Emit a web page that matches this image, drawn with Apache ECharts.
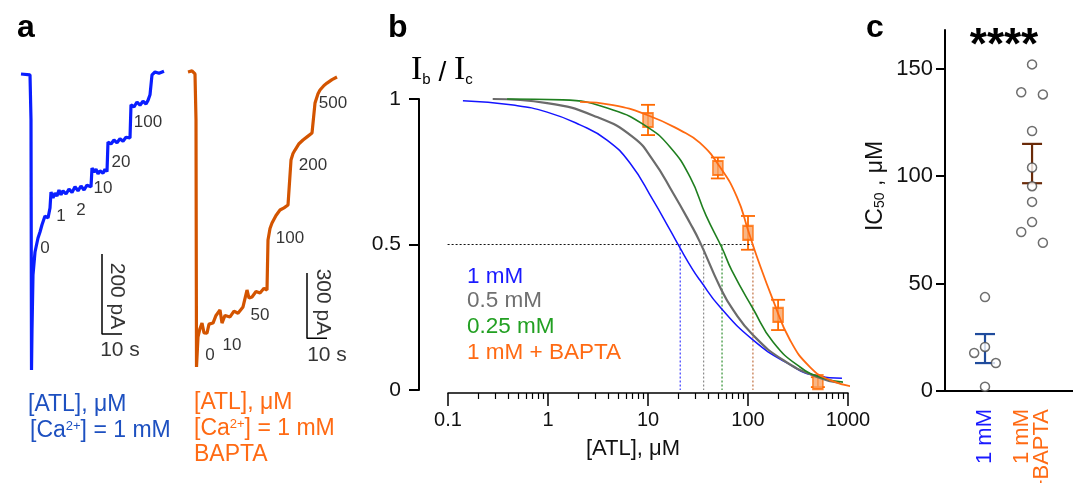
<!DOCTYPE html>
<html>
<head>
<meta charset="utf-8">
<script src="https://cdn.jsdelivr.net/npm/echarts@6/dist/echarts.min.js"></script>
<style>
html,body{margin:0;padding:0;background:#fff}
#main{width:1073px;height:483px}
</style>
</head>
<body>
<div id="main"></div>
<script>
// ---- panel a : current traces, [time s, current pA]
const blueTrace = [[0,0],[4.5,-2],[5,-115],[5.25,-740],[5.5,-640],[6,-502],[7,-445],[8.5,-410],[9.5,-395],[10.5,-377],[11.5,-380],[12,-355],[13,-350],[13.5,-360],[14.5,-335],[15,-295],[15.5,-300],[16,-310],[17,-298],[18,-305],[19,-290],[20,-302],[21,-292],[22.5,-300],[24,-288],[25.5,-296],[27,-282],[28.5,-292],[30,-280],[31.5,-290],[33,-278],[35,-282],[35.5,-235],[36.5,-245],[37.5,-238],[38.5,-250],[39.5,-242],[41,-248],[42,-238],[43,-244],[43.5,-170],[45,-175],[46.5,-165],[48,-172],[49.5,-162],[51,-168],[52.5,-158],[54.5,-160],[55,-77],[56.5,-82],[58,-70],[59.5,-78],[61,-68],[62.5,-75],[63.5,-66],[64.5,-52],[65.5,-2],[67,5],[69,2],[71.5,7]]
const orangeTrace = [[0,0],[2,5],[3.5,-9],[4,-221],[4.25,-1357],[5,-1219],[6,-1180],[7,-1155],[8,-1200],[9.5,-1201],[10.5,-1160],[12.5,-1155],[14,-1120],[16,-1095],[17,-1155],[18.5,-1120],[21,-1127],[23,-1100],[25,-1110],[27.5,-1081],[29.5,-1003],[30.5,-1040],[32,-1035],[34,-1010],[36,-1017],[38,-995],[39.5,-1003],[40,-773],[41,-720],[42,-695],[44,-660],[46,-635],[48,-625],[50,-612],[51,-603],[51.5,-405],[52.5,-375],[53.5,-359],[55.5,-330],[57.5,-313],[60,-295],[62,-281],[63,-276],[63.5,-143],[65,-100],[66,-83],[68,-62],[69.5,-51],[72,-35],[74.5,-23]]
// ATL concentration labels on the traces: [text, t, pA]
const blueMarks = [['0',12,-435],['1',20,-357],['2',30,-342],['10',41,-287],['20',50,-220],['100',63.5,-122]]
const orangeMarks = [['0',11,-1302],['10',22,-1256],['50',36,-1118],['100',51,-764],['200',62.5,-428],['500',72.5,-143]]
// scale bars (200 pA / 300 pA, 10 s)
const blueBar = [[40.5,-450],[40.5,-650],[50.5,-650]]
const orangeBar = [[59.5,-925],[59.5,-1225],[69.5,-1225]]
const blueBarText = [['200 pA',48,-555,-90],['10 s',49.5,-690,0]]
const orangeBarText = [['300 pA',67.5,-1058,-90],['10 s',69.5,-1302,0]]

// ---- panel b : dose-response, [ATL µM, Ib/Ic]
const fit1mM = [[0.141,0.994],[0.447,0.979],[0.98,0.955],[2.09,0.911],[3.89,0.859],[6.6,0.78],[11.2,0.653],[16.6,0.55],[20.9,0.488],[28.2,0.412],[33,0.378],[52.5,0.285],[112,0.172],[245,0.093],[490,0.048],[870,0.04]]
const fit05mM = [[0.28,1.0],[0.98,0.986],[3.09,0.938],[7.08,0.869],[11.2,0.79],[17.8,0.677],[26.3,0.574],[33,0.509],[52.5,0.354],[71,0.275],[112,0.189],[224,0.103],[490,0.045],[832,0.024]]
const fit025mM = [[0.39,1.0],[1.41,0.997],[4.47,0.962],[9.8,0.904],[16.6,0.835],[26.3,0.732],[38,0.6],[55,0.488],[69,0.41],[112,0.28],[178,0.165],[331,0.079],[562,0.041],[891,0.027]]
const fitBapta = [[2.09,0.99],[4.47,0.979],[9.8,0.945],[20.9,0.893],[33.1,0.849],[52.5,0.766],[77.6,0.663],[100,0.55],[123,0.457],[178,0.309],[263,0.172],[417,0.079],[661,0.034],[1230,0.01]]
const baptaConc = [10, 50, 100, 200, 500]
const baptaMean = [0.928, 0.763, 0.54, 0.258, 0.027]
const baptaSem = [0.052, 0.036, 0.058, 0.052, 0.017]
const ic50 = [21, 36, 55, 112]
const xTickLabels = [0.1, 1, 10, 100, 1000]
const legendNames = ['1 mM', '0.5 mM', '0.25 mM', '1 mM + BAPTA']

// ---- panel c : IC50 values, µM
const groups = ['1 mM', '1 mM\n+BAPTA']
const ic50Ca = [43.7, 17.7, 20.5, 13, 2]
const jitterCa = [0, -1, 0, 1, 0]
const ic50Bapta = [152, 139, 138, 121, 104, 95.3, 88, 78.6, 74, 69]
const jitterBapta = [0, -1, 1, 0, 0, 0, 0, 0, -1, 1]
const semBars = [[1, 13, 26.5], [2, 96.7, 115]]
const cTicks = [0, 50, 100, 150]

const FONT = '"Liberation Sans", Arial, sans-serif'
const SERIF = '"Liberation Serif", "Times New Roman", serif'
const fitColors = ['#1414ff', '#6b6b6b', '#1f7f1f', '#ff6a10']
const fitWidths = [1.5, 2.2, 1.6, 1.8]
const legendColors = ['#1a1aff', '#707070', '#22a022', '#ff6a13']
const dotColors = ['#3a3aff', '#8c8c8c', '#2f8f2f', '#c07040']
const barColors = ['#1f4b9c', '#6a2a08']

let minorTicks = []
for (let d of [0.1, 1, 10, 100]) {
    for (let k = 2; k <= 9; k++) minorTicks.push(Number((k * d).toPrecision(3)))
}

let chart = echarts.init(document.getElementById('main'))

function hiddenAxis(i, min, max) {
    return {type: 'value', gridIndex: i, min: min, max: max, show: false}
}
function labelSeries(marks, xi, size, color) {
    return {
        type: 'scatter', xAxisIndex: xi, yAxisIndex: xi, symbolSize: 0, silent: true,
        data: marks.map(m => ({name: m[0], value: [m[1], m[2]], label: {rotate: m[3] || 0}})),
        label: {show: true, position: 'inside', formatter: '{b}', color: color, fontSize: size, fontFamily: FONT}
    }
}
function txt(x, y, text, size, color, extra) {
    return Object.assign({
        type: 'text', x: x, y: y, silent: true,
        style: Object.assign({text: text, fontSize: size, fontFamily: FONT, fill: color, align: 'left', verticalAlign: 'middle'}, (extra && extra.style) || {})
    }, extra ? {rotation: extra.rotation || 0} : {})
}
const sup = {s: {fontSize: 13, verticalAlign: 'top', fontFamily: FONT}}

let fits = [fit1mM, fit05mM, fit025mM, fitBapta]
let series = [
    // panel a
    {type: 'line', xAxisIndex: 0, yAxisIndex: 0, data: blueTrace, showSymbol: false, lineStyle: {color: '#0a1eff', width: 3.2}},
    {type: 'line', xAxisIndex: 0, yAxisIndex: 0, data: blueBar, showSymbol: false, lineStyle: {color: '#000', width: 1.5}},
    labelSeries(blueMarks, 0, 17, '#000'),
    labelSeries(blueBarText, 0, 21, '#000'),
    {type: 'line', xAxisIndex: 1, yAxisIndex: 1, data: orangeTrace, showSymbol: false, lineStyle: {color: '#d35400', width: 3.2}},
    {type: 'line', xAxisIndex: 1, yAxisIndex: 1, data: orangeBar, showSymbol: false, lineStyle: {color: '#000', width: 1.5}},
    labelSeries(orangeMarks, 1, 17, '#000'),
    labelSeries(orangeBarText, 1, 21, '#000'),
    // panel b dotted guides
    {type: 'line', xAxisIndex: 2, yAxisIndex: 2, clip: false, showSymbol: false,
        data: [[0.052, 0.5], [ic50[3], 0.5]], lineStyle: {color: '#111', width: 1.2, type: [2, 2]}}
]
ic50.forEach((v, i) => {
    series.push({type: 'line', xAxisIndex: 2, yAxisIndex: 2, showSymbol: false,
        data: [[v, 0.5], [v, 0]], lineStyle: {color: dotColors[i], width: 1.2, type: [2, 2]}})
})
fits.forEach((f, i) => {
    series.push({type: 'line', xAxisIndex: 2, yAxisIndex: 2, data: f, showSymbol: false, clip: false,
        smooth: 0.5, lineStyle: {color: fitColors[i], width: fitWidths[i]}})
})
series.push({
    type: 'custom', xAxisIndex: 2, yAxisIndex: 2, silent: true,
    data: baptaConc.map((c, i) => [c, baptaMean[i], baptaSem[i]]),
    renderItem: function (params, api) {
        let top = api.coord([api.value(0), api.value(1) + api.value(2)])
        let bot = api.coord([api.value(0), api.value(1) - api.value(2)])
        let st = {stroke: '#ff6a00', lineWidth: 1.8}
        return {type: 'group', children: [
            {type: 'line', shape: {x1: top[0], y1: top[1], x2: bot[0], y2: bot[1]}, style: st},
            {type: 'line', shape: {x1: top[0] - 7, y1: top[1], x2: top[0] + 7, y2: top[1]}, style: st},
            {type: 'line', shape: {x1: bot[0] - 7, y1: bot[1], x2: bot[0] + 7, y2: bot[1]}, style: st}
        ]}
    }
})
series.push({type: 'scatter', xAxisIndex: 2, yAxisIndex: 2, symbol: 'rect', symbolSize: [10, 14],
    data: baptaConc.map((c, i) => [c, baptaMean[i]]),
    itemStyle: {color: '#f8a466', borderColor: '#ff6a00', borderWidth: 1.8}})
// panel c
series.push({
    type: 'custom', xAxisIndex: 4, yAxisIndex: 3, silent: true,
    data: semBars.map((b, i) => [b[0], b[1], b[2], i]),
    renderItem: function (params, api) {
        let top = api.coord([api.value(0), api.value(2)])
        let bot = api.coord([api.value(0), api.value(1)])
        let st = {stroke: barColors[api.value(3)], lineWidth: 2.2}
        return {type: 'group', children: [
            {type: 'line', shape: {x1: top[0], y1: top[1], x2: bot[0], y2: bot[1]}, style: st},
            {type: 'line', shape: {x1: top[0] - 10, y1: top[1], x2: top[0] + 10, y2: top[1]}, style: st},
            {type: 'line', shape: {x1: bot[0] - 10, y1: bot[1], x2: bot[0] + 10, y2: bot[1]}, style: st}
        ]}
    }
})
series.push({type: 'scatter', xAxisIndex: 4, yAxisIndex: 3, symbol: 'circle', symbolSize: 9,
    data: ic50Ca.map((v, i) => [1 + jitterCa[i] * 0.23, v]).concat(ic50Bapta.map((v, i) => [2 + jitterBapta[i] * 0.23, v])),
    itemStyle: {color: '#fff', borderColor: '#4a4a4a', borderWidth: 1.5}})

let option = {
    animation: false,
    backgroundColor: '#fff',
    textStyle: {fontFamily: FONT},
    grid: [
        {left: 21, top: 66, width: 150, height: 328, outerBoundsMode: 'none'},
        {left: 188, top: 62, width: 150, height: 314.3, outerBoundsMode: 'none'},
        {left: 448, top: 99, width: 400, height: 291, outerBoundsMode: 'none'},
        {left: 945, top: 30, width: 128, height: 361, outerBoundsMode: 'none'}
    ],
    xAxis: [
        hiddenAxis(0, 0, 75),
        hiddenAxis(1, 0, 75),
        {type: 'log', logBase: 10, gridIndex: 2, min: 0.1, max: 1000, offset: 3, position: 'bottom', z: 3,
            axisLine: {show: true, onZero: false, lineStyle: {color: '#000', width: 1.5}},
            axisTick: {show: true, inside: false, length: 13, lineStyle: {width: 1.5, color: '#000'}, customValues: xTickLabels},
            axisLabel: {customValues: xTickLabels, margin: 17, fontSize: 20, color: '#111', fontFamily: FONT,
                formatter: v => v < 1 ? v.toFixed(1) : String(Math.round(v))},
            splitLine: {show: false}, minorTick: {show: false}},
        {type: 'log', logBase: 10, gridIndex: 2, min: 0.1, max: 1000, offset: 3, position: 'bottom',
            axisLine: {show: false, onZero: false},
            axisTick: {show: true, inside: false, length: 6, lineStyle: {width: 1.2, color: '#000'}, customValues: minorTicks},
            axisLabel: {show: false}, splitLine: {show: false}},
        {type: 'value', gridIndex: 3, min: 0.15, max: 2.87,
            axisLine: {onZero: false, lineStyle: {color: '#000', width: 2}},
            axisTick: {show: false}, splitLine: {show: false},
            axisLabel: {customValues: [1, 2], rotate: 90, margin: 18, fontSize: 22, fontFamily: FONT,
                formatter: v => v === 1 ? '{b|' + groups[0] + '}' : groups[1].split('\n').map(s => '{o|' + s + '}').join('\n'),
                rich: {b: {color: '#1a1aff', fontSize: 22, fontFamily: FONT, lineHeight: 20},
                       o: {color: '#ff6a13', fontSize: 22, fontFamily: FONT, lineHeight: 20}}}}
    ],
    yAxis: [
        hiddenAxis(0, -800, 20),
        hiddenAxis(1, -1400, 46),
        {type: 'value', gridIndex: 2, min: 0, max: 1, interval: 0.5, offset: 29,
            axisLine: {show: true, onZero: false, lineStyle: {color: '#000', width: 2}},
            axisTick: {show: true, length: 10, lineStyle: {width: 2, color: '#000'}},
            axisLabel: {margin: 18, fontSize: 21, color: '#111', fontFamily: FONT},
            splitLine: {show: false}},
        {type: 'value', gridIndex: 3, min: 0, max: 168,
            axisLine: {show: true, onZero: false, lineStyle: {color: '#000', width: 2}},
            axisTick: {show: true, length: 9, lineStyle: {width: 2, color: '#000'}, customValues: cTicks},
            axisLabel: {customValues: cTicks, margin: 12, fontSize: 22, color: '#111', fontFamily: FONT},
            splitLine: {show: false}}
    ],
    graphic: [
        txt(17, 28, 'a', 32, '#000', {style: {fontWeight: 'bold'}}),
        txt(388, 28, 'b', 32, '#000', {style: {fontWeight: 'bold'}}),
        txt(866, 28, 'c', 32, '#000', {style: {fontWeight: 'bold'}}),
        // panel a conditions
        txt(28, 405, '[ATL], μM', 23, '#1d50c0'),
        txt(30, 431, '[Ca{s|2+}] = 1 mM', 23, '#1d50c0', {style: {rich: sup}}),
        txt(194, 403, '[ATL], μM', 23, '#ff6a13'),
        txt(194, 429, '[Ca{s|2+}] = 1 mM', 23, '#ff6a13', {style: {rich: sup}}),
        txt(194, 455, 'BAPTA', 23, '#ff6a13'),
        // panel b
        txt(411, 70, '{i|I}{s|b}{d| / }{i|I}{s|c}', 34, '#000', {style: {rich: {
            i: {fontFamily: SERIF, fontSize: 34, verticalAlign: 'bottom'},
            s: {fontFamily: FONT, fontSize: 15, verticalAlign: 'bottom'},
            d: {fontFamily: FONT, fontSize: 28, verticalAlign: 'bottom'}}}}),
        txt(633, 449, '[ATL], μM', 22, '#111', {style: {align: 'center'}}),
        // panel c
        txt(876, 186, '{a|IC}{s|50}{a| , μM}', 23, '#111', {rotation: Math.PI / 2, style: {align: 'center', rich: {
            a: {fontFamily: FONT, fontSize: 23, verticalAlign: 'bottom'},
            s: {fontFamily: FONT, fontSize: 14, verticalAlign: 'bottom'}}}}),
        txt(1004, 47, '****', 44, '#000', {style: {align: 'center', fontWeight: 'bold'}})
    ].concat(legendNames.map((n, i) => txt(467, [277, 301, 327, 353][i], n, 22.5, legendColors[i]))),
    series: series
}
chart.setOption(option)
</script>
</body>
</html>
